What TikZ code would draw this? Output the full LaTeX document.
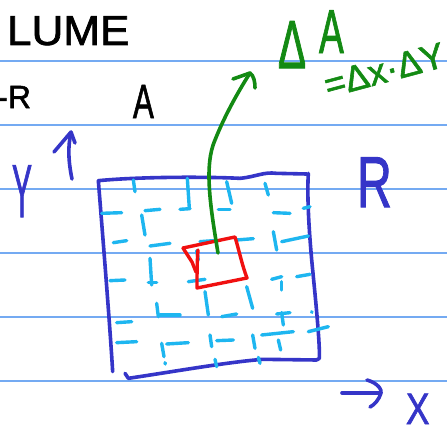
\documentclass[tikz,border=0pt]{standalone}
\usepackage{fontspec}
\setmainfont{Liberation Sans}[FakeBold=1.6]
\definecolor{ruleblue}{HTML}{74AAF2}
\definecolor{penblue}{HTML}{3535C8}
\definecolor{pencyan}{HTML}{1EB6F0}
\definecolor{penred}{HTML}{F01010}
\definecolor{pengreen}{HTML}{138A13}
\tikzset{
  pen/.style={line width=3.6pt,line cap=round,line join=round},
  dsh/.style={pen,pencyan,line width=3.4pt},
  hand/.style={inner sep=0pt,outer sep=0pt},
}
\newcommand{\fs}[1]{\fontsize{#1}{#1}\selectfont}
\begin{document}
\begin{tikzpicture}[x=1pt,y=-1pt]
\useasboundingbox (0,0) rectangle (447,428);
\fill[white] (0,0) rectangle (447,428);
% ruled lines
\foreach \yy in {61,125,189,253,317,381}
  \draw[ruleblue,line width=1.3pt] (0,\yy) -- (447,\yy);

% black text
\node[hand,anchor=base west,xscale=1.05] (lume) at (7,45) {\fs{42}LUME};
\node[hand,anchor=base east] (rr) at (31,108) {\fs{32}-R};
\node[hand,anchor=base west,xscale=.65] (aa) at (133,118) {\fs{48}A};

% green text
\node[hand,anchor=base west,text=pengreen,xscale=.62] (delta) at (278,68) {\fs{68}Δ};
\node[hand,anchor=base west,text=pengreen,xscale=.6] (agreen) at (319,53) {\fs{62}A};
\node[hand,anchor=base west,text=pengreen,rotate=15] (eq) at (328,98) {\fs{36}=Δx·ΔY};

% blue text
\node[hand,anchor=base west,text=penblue,xscale=.4] (ylab) at (12,217) {\fs{75}Y};
\node[hand,anchor=base west,text=penblue,xscale=.67] (rlab) at (357,207) {\fs{72}R};
\node[hand,anchor=base west,text=penblue,xscale=.8] (xlab) at (406,424) {\fs{44}X};

% blue arrows
\draw[pen,penblue] (72,179) .. controls (68,160) and (68,145) .. (71,133);
\draw[pen,penblue] (54,152) -- (71,132) -- (75,143);
\draw[pen,penblue] (342,393) -- (379,393);
\draw[pen,penblue] (367,380) .. controls (378,383) and (382,390) .. (381,393) .. controls (379,400) and (374,405) .. (370,407);

% region R (big square)
\begin{scope}[shift={(90,160)},scale=1/3]
  \draw[pen,penblue] (25,62) .. controls (150,50) and (350,50) .. (450,55)
     .. controls (500,50) and (520,35) .. (560,40) -- (650,42);
  \draw[pen,penblue] (655,40) .. controls (650,120) and (660,250) .. (668,330)
     .. controls (680,450) and (690,560) .. (688,595) -- (680,600);
  \draw[pen,penblue] (25,62) .. controls (40,250) and (60,500) .. (68,635);
  \draw[pen,penblue] (105,640) -- (115,655) .. controls (250,635) and (420,605) .. (520,598) -- (680,600);

  % cyan dashes
  \foreach \a/\b in {
    {35,160}/{95,158}, {165,152}/{210,148}, {270,148}/{300,146}, {385,148}/{420,148},
    {550,158}/{600,160}, {640,145}/{660,140},
    {70,248}/{110,242}, {180,258}/{240,250}, {330,245}/{370,242}, {440,240}/{490,236},
    {575,245}/{655,228},
    {60,362}/{105,360}, {175,368}/{200,368}, {295,365}/{345,358}, {545,358}/{575,350},
    {620,350}/{660,343},
    {80,488}/{125,485}, {210,465}/{270,465}, {395,470}/{440,462}, {560,462}/{600,458},
    {80,548}/{140,545}, {230,552}/{295,548}, {380,542}/{430,540}, {515,525}/{610,515},
    {655,515}/{715,500},
    {130,60}/{135,95}, {292,55}/{298,145}, {410,65}/{425,130}, {525,70}/{535,105},
    {155,165}/{165,225}, {550,215}/{560,270}, {180,295}/{185,375}, {320,272}/{325,300},
    {345,395}/{355,465}, {470,380}/{488,445}, {575,365}/{575,390},
    {200,430}/{205,470}, {575,458}/{580,495}, {665,455}/{666,457},
    {215,550}/{222,590}, {225,608}/{226,612}, {360,525}/{365,560}, {375,598}/{380,620},
    {488,525}/{495,565}, {505,592}/{510,610}, {565,540}/{572,570}}
    \draw[dsh] (\a) -- (\b);
\end{scope}

% Delta A (red small square)
\draw[pen,penred,line width=3.4pt] (183,248) -- (235,237) .. controls (239,250) and (242,265) .. (247,278)
   -- (197,288) .. controls (197,275) and (197,262) .. (198,250);
\draw[pen,penred,line width=3.4pt] (183,248) -- (192,262) -- (196,272);

% green arrow from Delta A to its label
\coordinate (gstart) at (218,253);
\coordinate (gtip) at (250,73);
\draw[pen,pengreen] (gstart) .. controls (210,205) and (204,165) .. (215,140)
   .. controls (225,115) and (238,92) .. (gtip);
\draw[pen,pengreen] (233,79) -- (gtip) .. controls (254,76) and (255,82) .. (255,88);
\end{tikzpicture}
\end{document}
